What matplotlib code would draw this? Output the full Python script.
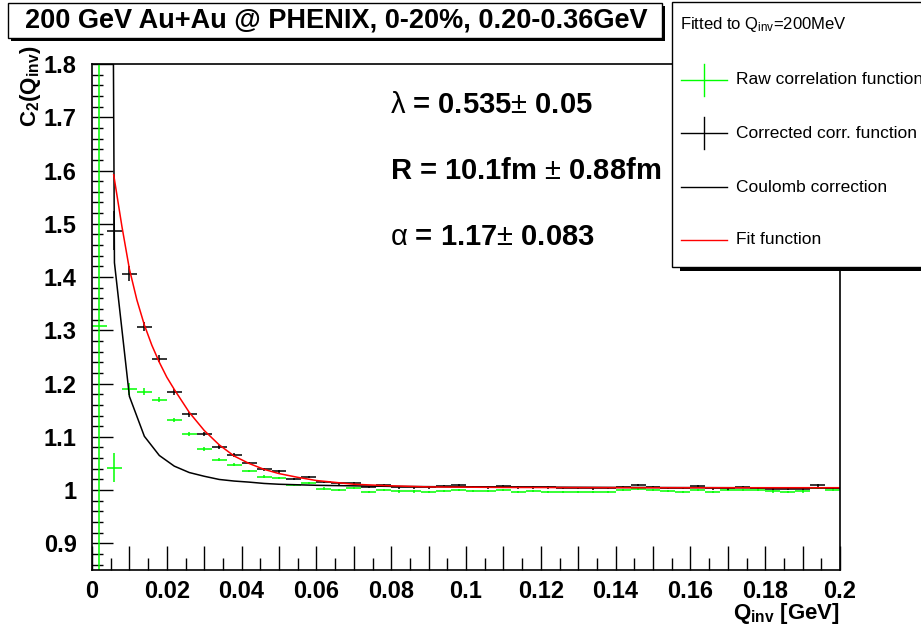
import matplotlib
matplotlib.use("Agg")
import matplotlib.pyplot as plt
from matplotlib.patches import Rectangle
from matplotlib.lines import Line2D
from matplotlib.ticker import FixedLocator, FixedFormatter

plt.rcParams['font.family'] = ['Liberation Sans', 'DejaVu Sans']
plt.rcParams['mathtext.fontset'] = 'custom'
plt.rcParams['mathtext.rm'] = 'Liberation Sans'
plt.rcParams['mathtext.bf'] = 'Liberation Sans:bold'
plt.rcParams['mathtext.it'] = 'Liberation Sans:italic'

# raw correlation function (green), bin centers in GeV
q_raw = [0.002, 0.006, 0.010, 0.014, 0.018, 0.022, 0.026, 0.030, 0.034, 0.038,
         0.042, 0.046, 0.050, 0.054, 0.058, 0.062, 0.066, 0.070, 0.074, 0.078,
         0.082, 0.086, 0.090, 0.094, 0.098, 0.102, 0.106, 0.110, 0.114, 0.118,
         0.122, 0.126, 0.130, 0.134, 0.138, 0.142, 0.146, 0.150, 0.154, 0.158,
         0.162, 0.166, 0.170, 0.174, 0.178, 0.182, 0.186, 0.190, 0.194, 0.198]
raw = [1.309, 1.042, 1.190, 1.185, 1.170, 1.131, 1.105, 1.077, 1.057, 1.048,
       1.036, 1.025, 1.022, 1.009, 1.014, 1.003, 1.001, 1.004, 0.997, 1.001,
       0.9975, 0.9975, 0.997, 0.998, 1.001, 0.998, 0.998, 1.001, 0.997, 0.998,
       0.997, 0.997, 0.997, 0.997, 0.997, 1.000, 1.002, 1.000, 0.998, 0.997,
       1.0006, 0.997, 0.9994, 1.0006, 1.000, 0.9975, 0.997, 0.9975, 1.0044, 1.000]
raw_err = [0.8, 0.027, 0.011, 0.007, 0.005, 0.004, 0.0035, 0.003, 0.003, 0.0025,
           0.0025, 0.0025, 0.002, 0.002, 0.002, 0.002, 0.002, 0.002, 0.002, 0.002,
           0.002, 0.002, 0.002, 0.002, 0.002, 0.002, 0.002, 0.002, 0.002, 0.002,
           0.002, 0.002, 0.002, 0.002, 0.002, 0.002, 0.002, 0.002, 0.002, 0.002,
           0.002, 0.002, 0.002, 0.002, 0.002, 0.002, 0.002, 0.002, 0.002, 0.002]

# corrected correlation function (black)
q_corr = q_raw[1:]
corr = [1.487, 1.406, 1.307, 1.247, 1.184, 1.142, 1.106, 1.081, 1.066,
        1.051, 1.039, 1.035, 1.021, 1.024, 1.015, 1.0125, 1.014, 1.006, 1.009,
        1.005, 1.005, 1.005, 1.0075, 1.010, 1.0056, 1.005, 1.008, 1.005, 1.005,
        1.005, 1.0037, 1.0037, 1.0031, 1.0037, 1.0056, 1.0094, 1.0056, 1.0037, 1.0037,
        1.0068, 1.0031, 1.0031, 1.0056, 1.0044, 1.0019, 1.0019, 1.0025, 1.0087, 1.0037]
corr_err = [0.037, 0.014, 0.009, 0.006, 0.005, 0.004, 0.0035, 0.003, 0.003,
            0.0025, 0.0025, 0.0025, 0.002, 0.002, 0.002, 0.002, 0.002, 0.002, 0.002,
            0.002, 0.002, 0.002, 0.002, 0.002, 0.002, 0.002, 0.002, 0.002, 0.002,
            0.002, 0.002, 0.002, 0.002, 0.002, 0.002, 0.002, 0.002, 0.002, 0.002,
            0.002, 0.002, 0.002, 0.002, 0.002, 0.002, 0.002, 0.002, 0.002, 0.002]

# Coulomb correction curve
q_coul = [0.002, 0.006, 0.010, 0.014, 0.018, 0.022, 0.026, 0.030, 0.034, 0.038,
          0.042, 0.046, 0.050, 0.060, 0.070, 0.080, 0.100, 0.140, 0.200]
coul = [7.0, 1.427, 1.176, 1.101, 1.065, 1.045, 1.033, 1.026, 1.020, 1.017,
        1.015, 1.0125, 1.011, 1.009, 1.008, 1.007, 1.006, 1.005, 1.004]

# fit function
q_fit = [0.0058, 0.008, 0.010, 0.012, 0.014, 0.016, 0.018, 0.020, 0.022, 0.026,
         0.030, 0.034, 0.038, 0.042, 0.046, 0.050, 0.055, 0.060, 0.070, 0.080,
         0.090, 0.110, 0.150, 0.200]
fit = [1.592, 1.495, 1.415, 1.357, 1.310, 1.272, 1.240, 1.212, 1.189, 1.146,
       1.112, 1.085, 1.064, 1.050, 1.039, 1.031, 1.024, 1.018, 1.011, 1.008,
       1.006, 1.005, 1.0045, 1.0045]

bin_half = 0.002

W, H = 921, 632
fig = plt.figure(figsize=(W / 100, H / 100), dpi=100)
ax = fig.add_axes([92 / W, 1 - 570 / H, 748 / W, 506 / H])

ax.errorbar(q_raw, raw, xerr=bin_half, yerr=raw_err, fmt='none', ecolor='#00ff00', elinewidth=1.1)
ax.errorbar(q_corr, corr, xerr=bin_half, yerr=corr_err, fmt='none', ecolor='black', elinewidth=1.1)
ax.plot(q_coul, coul, color='black', lw=1.1)
ax.plot(q_fit, fit, color='#ff0000', lw=1.1)

ax.set_xlim(0, 0.2)
ax.set_ylim(0.85, 1.8)

xmaj = [0.0, 0.01, 0.02, 0.03, 0.04, 0.05, 0.06, 0.07, 0.08, 0.09, 0.10,
        0.11, 0.12, 0.13, 0.14, 0.15, 0.16, 0.17, 0.18, 0.19, 0.20]
xlab = ['0', '', '0.02', '', '0.04', '', '0.06', '', '0.08', '', '0.1',
        '', '0.12', '', '0.14', '', '0.16', '', '0.18', '', '0.2']
ax.xaxis.set_major_locator(FixedLocator(xmaj))
ax.xaxis.set_major_formatter(FixedFormatter(xlab))
ax.xaxis.set_minor_locator(FixedLocator([x + 0.005 for x in xmaj[:-1]]))

ymaj = [0.9, 1.0, 1.1, 1.2, 1.3, 1.4, 1.5, 1.6, 1.7, 1.8]
ylab = ['0.9', '1', '1.1', '1.2', '1.3', '1.4', '1.5', '1.6', '1.7', '1.8']
ax.yaxis.set_major_locator(FixedLocator(ymaj))
ax.yaxis.set_major_formatter(FixedFormatter(ylab))
ax.yaxis.set_minor_locator(FixedLocator([0.86, 0.88] + [y + d for y in ymaj[:-1] for d in (0.02, 0.04, 0.06, 0.08)]))

ax.tick_params(axis='x', which='major', direction='in', length=17, width=1, pad=7,
               labelsize=17)
ax.tick_params(axis='x', which='minor', direction='in', length=8.5, width=1)
ax.tick_params(axis='y', which='major', direction='in', length=15, width=1, pad=11,
               labelsize=17)
ax.tick_params(axis='y', which='minor', direction='in', length=8, width=1)
for lab in ax.get_xticklabels() + ax.get_yticklabels():
    lab.set_fontweight('bold')
for s in ax.spines.values():
    s.set_linewidth(1.2)

# overlay in pixel coordinates for boxes and texts
ov = fig.add_axes([0, 0, 1, 1])
ov.set_xlim(0, W)
ov.set_ylim(H, 0)
ov.axis('off')
ov.patch.set_visible(False)

# title box with shadow
ov.add_patch(Rectangle((11, 6), 654, 35, facecolor='black', edgecolor='none'))
ov.add_patch(Rectangle((8, 3), 654, 35, facecolor='white', edgecolor='black', lw=1))
ov.text(336, 21, '200 GeV Au+Au @ PHENIX, 0-20%, 0.20-0.36GeV', ha='center', va='center',
        fontsize=19.5, fontweight='bold')

# legend box with shadow
ov.add_patch(Rectangle((680, 10), 260, 261, facecolor='black', edgecolor='none'))
ov.add_patch(Rectangle((672, 2), 260, 265, facecolor='white', edgecolor='black', lw=1))
ov.text(680, 25, r'Fitted to Q$_{\rm inv}$=200MeV', ha='left', va='center', fontsize=12)
entries = [('Raw correlation function', '#00ff00', 80, True),
           ('Corrected corr. function', 'black', 133, True),
           ('Coulomb correction', 'black', 187, False),
           ('Fit function', '#ff0000', 240, False)]
for name, col, yy, cross in entries:
    ov.add_line(Line2D([681, 727], [yy, yy], color=col, lw=1))
    if cross:
        ov.add_line(Line2D([704, 704], [yy - 16, yy + 16], color=col, lw=1))
    ov.text(736, yy, name, ha='left', va='center', fontsize=12.5)

# fit results: greek letters and +- in regular weight (math), numbers in bold
ov.text(390, 105, r'$\mathrm{\lambda}$ = 0.535$\pm$ 0.05', ha='left', va='center',
        fontsize=21, fontweight='bold')
ov.text(390, 171, r'R = 10.1fm $\pm$ 0.88fm', ha='left', va='center',
        fontsize=21, fontweight='bold')
ov.text(390, 237, r'$\mathrm{\alpha}$ = 1.17$\pm$ 0.083', ha='left', va='center',
        fontsize=21, fontweight='bold')

# axis titles
ov.text(30, 45, r'C$_{\mathbf{2}}$(Q$_{\mathbf{inv}}$)', rotation=90, ha='center', va='top',
        fontsize=16, fontweight='bold')
ov.text(840, 614, r'Q$_{\mathbf{inv}}$ [GeV]', ha='right', va='center', fontsize=16, fontweight='bold')

fig.savefig('out.png', dpi=100)
